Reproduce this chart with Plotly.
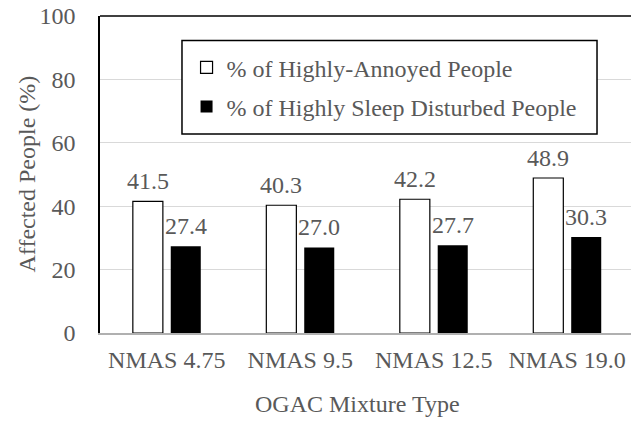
import plotly.graph_objects as go

categories = ["NMAS 4.75", "NMAS 9.5", "NMAS 12.5", "NMAS 19.0"]
annoyed = [41.5, 40.3, 42.2, 48.9]
sleep_disturbed = [27.4, 27.0, 27.7, 30.3]
series_names = ["% of Highly-Annoyed People", "% of Highly Sleep Disturbed People"]
y_ticks = [0, 20, 40, 60, 80, 100]
x_title = "OGAC Mixture Type"
y_title = "Affected People (%)"

FONT = "'Liberation Serif', Tinos, 'Times New Roman', Times, serif"
GREY = "#595959"

fig = go.Figure()
fig.add_trace(go.Bar(
    x=categories, y=annoyed, name=series_names[0], legendgroup="a",
    width=0.225, offset=-0.254,
    marker=dict(color="white", line=dict(color="black", width=1.2)),
))
fig.add_trace(go.Bar(
    x=categories, y=sleep_disturbed, name=series_names[1], legendgroup="b",
    width=0.225, offset=0.03,
    marker=dict(color="black", line=dict(color="black", width=0)),
))

annotations = []
for c, v in zip(categories, annoyed):
    annotations.append(dict(x=c, y=v, xref="x", yref="y", text=f"{v:.1f}", showarrow=False,
                            xanchor="center", yanchor="bottom", xshift=-19, yshift=5,
                            font=dict(family=FONT, size=24, color=GREY)))
for c, v in zip(categories, sleep_disturbed):
    annotations.append(dict(x=c, y=v, xref="x", yref="y", text=f"{v:.1f}", showarrow=False,
                            xanchor="center", yanchor="bottom", xshift=19, yshift=5,
                            font=dict(family=FONT, size=24, color=GREY)))
annotations.append(dict(x=0.485, y=0, xref="paper", yref="paper", text=x_title, showarrow=False,
                        xanchor="center", yanchor="top", yshift=-56,
                        font=dict(family=FONT, size=24, color=GREY)))
annotations.append(dict(x=0, y=0.5, xref="paper", yref="paper", text=y_title, showarrow=False,
                        textangle=-90, xanchor="center", yanchor="middle", xshift=-74,
                        font=dict(family=FONT, size=24, color=GREY)))

fig.update_layout(
    width=631, height=423,
    margin=dict(l=100, r=0, t=16, b=90),
    paper_bgcolor="white", plot_bgcolor="white",
    barmode="overlay",
    font=dict(family=FONT, size=24, color=GREY),
    showlegend=True,
    legend=dict(x=0.163, y=0.9076, xanchor="left", yanchor="top",
                bgcolor="rgba(0,0,0,0)", borderwidth=0, tracegroupgap=5,
                font=dict(family=FONT, size=24, color=GREY)),
    annotations=annotations,
    shapes=[
        dict(type="rect", xref="paper", yref="paper", x0=0.1544, x1=0.936, y0=0.628, y1=0.923,
             line=dict(color="black", width=1.5), fillcolor="white", layer="above"),
        dict(type="line", xref="paper", yref="paper", x0=0, x1=1, y0=1, y1=1,
             line=dict(color="black", width=1.5)),
    ],
    xaxis=dict(range=[-0.5, 3.478], showgrid=False, showline=True, linecolor="#b0b0b0", linewidth=1.5,
               ticks="", ticklabelstandoff=4, tickfont=dict(family=FONT, size=24, color=GREY)),
    yaxis=dict(range=[0, 100], tickvals=y_ticks, showgrid=True, gridcolor="#d9d9d9", gridwidth=1,
               zeroline=False, showline=True, linecolor="black", linewidth=1.5,
               ticks="", ticklabelstandoff=18, tickfont=dict(family=FONT, size=24, color=GREY)),
)

fig.write_html("out.html", config={"displayModeBar": False},
               post_script="document.body.style.margin='0px';document.body.style.overflow='hidden';")
